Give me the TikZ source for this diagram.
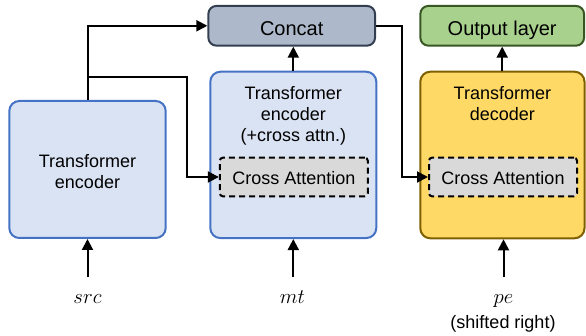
\documentclass[tikz,border=0pt]{standalone}
\usepackage{fontspec}
\setmainfont{Liberation Sans}
\usetikzlibrary{arrows.meta}
\definecolor{encfill}{HTML}{DAE3F3}
\definecolor{encdraw}{HTML}{4472C4}
\definecolor{catfill}{HTML}{ADB9CA}
\definecolor{catdraw}{HTML}{333F50}
\definecolor{outfill}{HTML}{A9D18E}
\definecolor{outdraw}{HTML}{385723}
\definecolor{decfill}{HTML}{FFD966}
\definecolor{decdraw}{HTML}{7F6000}
\definecolor{cafill}{HTML}{D9D9D9}
\begin{document}
\begin{tikzpicture}[x=1pt,y=-1pt,
  bigbox/.style={draw, rounded corners=10pt, line width=2pt, inner sep=0pt},
  headbox/.style={draw, rounded corners=8pt, line width=2pt, inner sep=0pt,
    font=\fontsize{20}{24}\selectfont, text height=19.4pt, text depth=0pt},
  encbox/.style={bigbox, fill=encfill, draw=encdraw},
  decbox/.style={bigbox, fill=decfill, draw=decdraw},
  cabox/.style={draw=black, fill=cafill, line width=2pt, dash pattern=on 6pt off 4pt,
    rounded corners=3pt, inner sep=0pt, minimum width=148pt, minimum height=38.6pt,
    font=\fontsize{18}{21}\selectfont, text height=16pt, text depth=0pt},
  title/.style={inner sep=0pt, align=center, anchor=north, font=\fontsize{18}{21}\selectfont},
  lab/.style={inner sep=0pt, anchor=base, font=\fontsize{22}{26}\selectfont},
  note/.style={inner sep=0pt, anchor=base, font=\fontsize{18}{21}\selectfont},
  arr/.style={line width=2pt, -{Triangle[length=11pt,width=11pt]}}]
\useasboundingbox (0,0) rectangle (586,336);

% boxes
\node[headbox, fill=catfill, draw=catdraw, minimum width=166.7pt, minimum height=39.7pt] (concat) at (291.7,25.8) {Concat};
\node[headbox, fill=outfill, draw=outdraw, minimum width=163.7pt, minimum height=39.7pt] (output) at (502.2,25.8) {Output layer};
\node[encbox, minimum width=156.4pt, minimum height=137pt] (box1) at (87.5,169.5) {};
\node[encbox, minimum width=166pt, minimum height=166.3pt] (box2) at (293.3,154.9) {};
\node[decbox, minimum width=164.2pt, minimum height=166.6pt] (box3) at (502.4,155) {};
\node[cabox] (ca1) at (293.8,177) {Cross Attention};
\node[cabox] (ca2) at (503,177) {Cross Attention};

% titles
\node[title] (t1) at (87.5,154.2) {Transformer\\encoder};
\node[title] (t2) at (293.3,86.2) {Transformer\\encoder\\(+cross attn.)};
\node[title] (t3) at (502.4,86.2) {Transformer\\decoder};

% input labels
\node[lab] (src) at (87.5,303.5) {$src$};
\node[lab] (mt) at (292.5,303.5) {$mt$};
\node[lab] (pe) at (503.5,303.5) {$pe$};
\node[note] (shift) at (503,329) {(shifted right)};

% coordinates
\coordinate (in1) at (87.5,277.3);
\coordinate (in2) at (293.3,277.3);
\coordinate (in3) at (503.5,277.3);
\coordinate (br) at (87.5,76.7);
\coordinate (k1) at (186.7,177);
\coordinate (k2) at (401.7,177);

% connectors
\draw[arr] (in1) -- (box1.south);
\draw[arr] (in2) -- (box2.south);
\draw[arr] (in3) -- (in3 |- box3.south);
\draw[arr] (box1.north) |- (concat.west);
\draw[arr] (br) -| (k1) -- (ca1.west);
\draw[arr] (box2.north) -- (box2.north |- concat.south);
\draw[arr] (concat.east) -| (k2) -- (ca2.west);
\draw[arr] (box3.north -| output.south) -- (output.south);
\end{tikzpicture}
\end{document}
